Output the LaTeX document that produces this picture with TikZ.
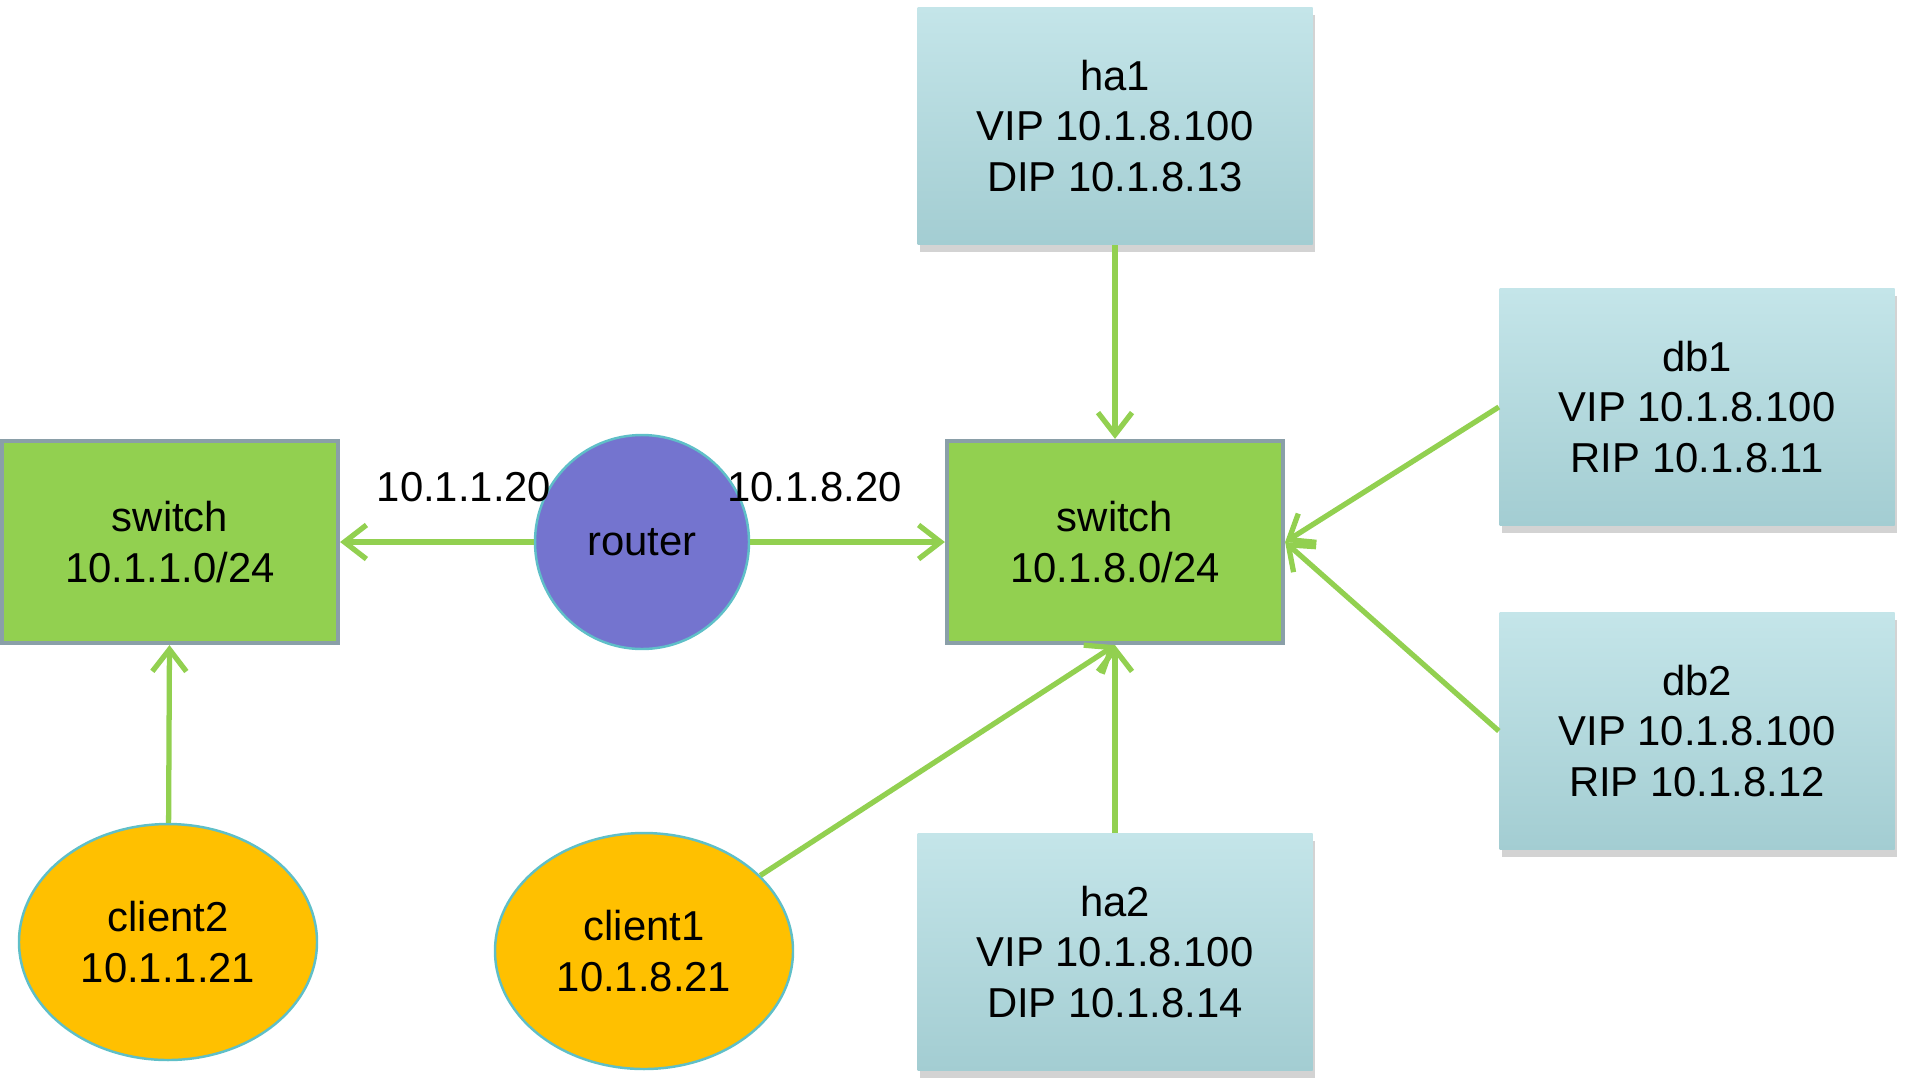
\documentclass[tikz,border=0pt]{standalone}
\usepackage{fontspec}
\setmainfont{Liberation Sans}
\usepackage{xcolor}
\usepackage{tikz}
\usetikzlibrary{arrows.meta,shapes.geometric,shadows}
\definecolor{SwGreen}{HTML}{92D050}
\definecolor{SwEdge}{HTML}{8A9FA8}
\definecolor{RtBlue}{HTML}{7474CF}
\definecolor{RimBlue}{HTML}{5FBFC8}
\definecolor{ClOrange}{HTML}{FFC000}
\definecolor{BoxTop}{HTML}{C4E5E9}
\definecolor{BoxBot}{HTML}{A3CDD2}
\begin{document}
\begin{tikzpicture}[
  font=\fontsize{11.9}{14.3}\selectfont, >={Straight Barb[length=2.2mm,width=3.4mm]},
  sw/.style={draw=SwEdge,line width=1.2pt,fill=SwGreen,align=center,
             minimum width=3.36cm,minimum height=2.02cm},
  host/.style={top color=BoxTop,bottom color=BoxBot,align=center,
               minimum width=3.95cm,minimum height=2.37cm,
               drop shadow={shadow xshift=0.2mm,shadow yshift=-0.7mm,opacity=0.35}},
  rt/.style={circle,draw=RimBlue,line width=0.7pt,fill=RtBlue,minimum size=2.14cm},
  cl/.style={ellipse,draw=RimBlue,line width=0.7pt,fill=ClOrange,align=center,
             minimum width=2.98cm,minimum height=2.36cm},
  e/.style={->,line width=1.5pt,SwGreen},
  lbl/.style={inner sep=1pt,text=black},
]
\useasboundingbox (0,0) rectangle (19.06,-10.85);

% Middle row: the two subnets with the router between them.
\node[sw] (swL) at (1.70,-5.42) {switch\\10.1.1.0/24};
\node[rt] (rt)  at (6.42,-5.42) {router};
\node[sw] (swR) at (11.15,-5.42) {switch\\10.1.8.0/24};

% Hosts on the 10.1.8.0/24 side.
\node[host] (ha1) at (11.15,-1.26) {ha1\\VIP 10.1.8.100\\DIP 10.1.8.13};
\node[host] (ha2) at (11.15,-9.52) {ha2\\VIP 10.1.8.100\\DIP 10.1.8.14};
\node[host] (db1) at (16.97,-4.07) {db1\\VIP 10.1.8.100\\RIP 10.1.8.11};
\node[host] (db2) at (16.97,-7.31) {db2\\VIP 10.1.8.100\\RIP 10.1.8.12};

\node[cl] (cl2) at (1.68,-9.42) {client2\\10.1.1.21};
\node[cl] (cl1) at (6.44,-9.51) {client1\\10.1.8.21};

\draw[e] (rt) -- (swL) node[lbl,pos=0.36,yshift=0.55cm] {10.1.1.20};
\draw[e] (rt) -- (swR) node[lbl,pos=0.33,yshift=0.55cm] {10.1.8.20};
\draw[e] (ha1) -- (swR);
\draw[e] (db1.west) -- (swR.east);
\draw[e] (db2.west) -- (swR.east);
\draw[e] (ha2) -- (swR);
\draw[e] (cl1) -- (swR.south);
\draw[e] (cl2) -- (swL);
\end{tikzpicture}
\end{document}
